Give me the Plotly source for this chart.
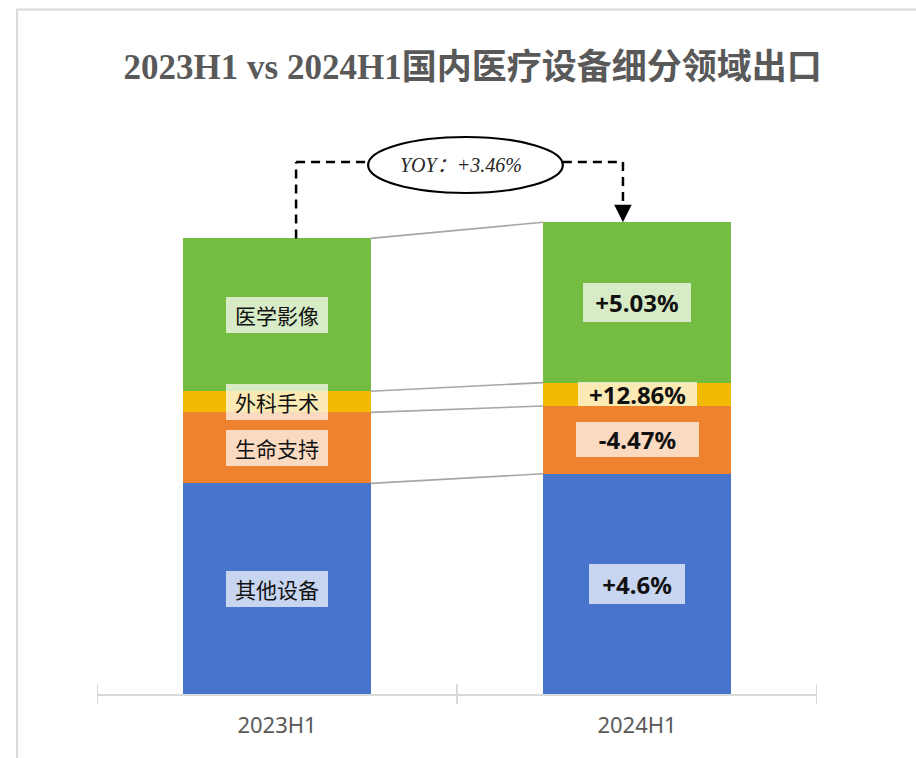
import plotly.graph_objects as go

# ---------------- data ----------------
categories = ["2023H1", "2024H1"]
segment_names = ["其他设备", "生命支持", "外科手术", "医学影像"]
other_equipment = [105.3, 110.1]
life_support = [35.5, 33.9]
surgery = [10.6, 11.7]
medical_imaging = [76.4, 80.2]
growth_labels = ["+4.6%", "-4.47%", "+12.86%", "+5.03%"]
yoy_label = "YOY：+3.46%"
title_text = "2023H1 vs 2024H1国内医疗设备细分领域出口"

# ---------------- styles ----------------
colors = ["#4874CB", "#EE822F", "#F2BA02", "#75BD42"]
bar_width = 0.52
label_box_2023 = [(102, 36), (102, 36), (102, 36), (102, 36)]
label_box_2024 = [(96, 40), (123, 35), (119, 24), (108, 39)]
cjk = "Noto Sans CJK SC"

series = [other_equipment, life_support, surgery, medical_imaging]

fig = go.Figure()
for name, vals, col in zip(segment_names, series, colors):
    fig.add_trace(go.Bar(
        x=categories, y=vals, name=name, width=bar_width,
        marker=dict(color=col, line=dict(width=0)),
        hoverinfo="x+y+name",
    ))

# cumulative levels
cum = []
for ci in range(len(categories)):
    acc = 0
    levels = []
    for s in series:
        acc += s[ci]
        levels.append(acc)
    cum.append(levels)
totals = [cum[0][-1], cum[1][-1]]

shapes = []
annotations = []

# connector lines between bars
half = bar_width / 2
for k in range(len(series)):
    shapes.append(dict(type="line", xref="x", yref="y",
                       x0=0 + half, y0=cum[0][k], x1=1 - half, y1=cum[1][k],
                       line=dict(color="#A6A6A6", width=1.6)))

# segment labels
for k in range(len(series)):
    lo0 = cum[0][k - 1] if k > 0 else 0
    lo1 = cum[1][k - 1] if k > 0 else 0
    mid0 = (lo0 + cum[0][k]) / 2
    mid1 = (lo1 + cum[1][k]) / 2
    w0, h0 = label_box_2023[k]
    w1, h1 = label_box_2024[k]
    annotations.append(dict(x=0, y=mid0, xref="x", yref="y", text=segment_names[k],
                            showarrow=False, font=dict(family=cjk, size=21, color="#111111"),
                            bgcolor="rgba(255,255,255,0.7)", width=w0, height=h0,
                            borderpad=0, borderwidth=0))
    annotations.append(dict(x=1, y=mid1, xref="x", yref="y", text=growth_labels[k],
                            showarrow=False,
                            font=dict(family="Noto Sans, " + cjk, size=24, color="#111111", weight="bold"),
                            bgcolor="rgba(255,255,255,0.7)", width=w1, height=h1,
                            borderpad=0, borderwidth=0))

# YOY callout
y_line = 266
x_left = 0.053
x_right = 0.961
ell_x0, ell_x1 = 0.253, 0.794
dash_style = dict(color="#000000", width=2.5, dash="9px,6px")
shapes.append(dict(type="line", xref="x", yref="y", x0=x_left, x1=x_left,
                   y0=totals[0], y1=y_line, line=dash_style))
shapes.append(dict(type="line", xref="x", yref="y", x0=x_left, x1=ell_x0,
                   y0=y_line, y1=y_line, line=dash_style))
shapes.append(dict(type="line", xref="x", yref="y", x0=ell_x1, x1=x_right,
                   y0=y_line, y1=y_line, line=dash_style))
shapes.append(dict(type="line", xref="x", yref="y", x0=x_right, x1=x_right,
                   y0=y_line, y1=totals[1] + 7, line=dash_style))
shapes.append(dict(type="circle", xref="x", yref="y", x0=ell_x0, x1=ell_x1,
                   y0=250.5, y1=278.5, line=dict(color="#000000", width=2.2),
                   fillcolor="white"))
annotations.append(dict(x=x_right, y=totals[1], xref="x", yref="y", text="",
                        showarrow=True, ax=0, ay=-15, axref="pixel", ayref="pixel",
                        arrowhead=2, arrowsize=1.4, arrowwidth=2.5, arrowcolor="#000000",
                        standoff=0))
annotations.append(dict(x=0.51, y=264.5, xref="x", yref="y", text=yoy_label,
                        showarrow=False,
                        font=dict(family="Liberation Serif, " + cjk, size=20, color="#262626",
                                  style="italic")))

# axis ticks (both sides of the axis line)
for b in [-0.5, 0.5, 1.5]:
    shapes.append(dict(type="line", xref="x", yref="paper", x0=b, x1=b,
                       y0=-0.0177, y1=0.0177, line=dict(color="#D9D9D9", width=2)))

# outer frame lines
shapes.append(dict(type="line", xref="paper", yref="paper", x0=-0.1125, x1=1.14,
                   y0=1.2137, y1=1.2137, line=dict(color="#D9D9D9", width=2)))
shapes.append(dict(type="line", xref="paper", yref="paper", x0=-0.111, x1=-0.111,
                   y0=1.2137, y1=-0.12, line=dict(color="#D9D9D9", width=2)))

fig.update_layout(
    width=916, height=758,
    margin=dict(l=97, r=99, t=130, b=64),
    paper_bgcolor="white", plot_bgcolor="white",
    barmode="stack", bargap=0,
    showlegend=False,
    title=dict(text=title_text, x=0.516, xref="container",
               y=0.912, yanchor="middle", xanchor="center",
               font=dict(family="Liberation Serif, " + cjk, size=35, color="#595959",
                         weight="bold")),
    xaxis=dict(type="category", range=[-0.5, 1.5], showline=True, linecolor="#D9D9D9",
               linewidth=2, ticks="", showgrid=False, zeroline=False,
               tickfont=dict(family="Noto Sans, " + cjk, size=22, color="#595959"),
               ticklabelstandoff=11),
    yaxis=dict(range=[0, 282], showgrid=False, zeroline=False, showticklabels=False,
               showline=False, ticks=""),
    shapes=shapes,
    annotations=annotations,
)

fig.write_html("out.html", config={"displayModeBar": False},
               post_script="document.body.style.margin='0px';")
